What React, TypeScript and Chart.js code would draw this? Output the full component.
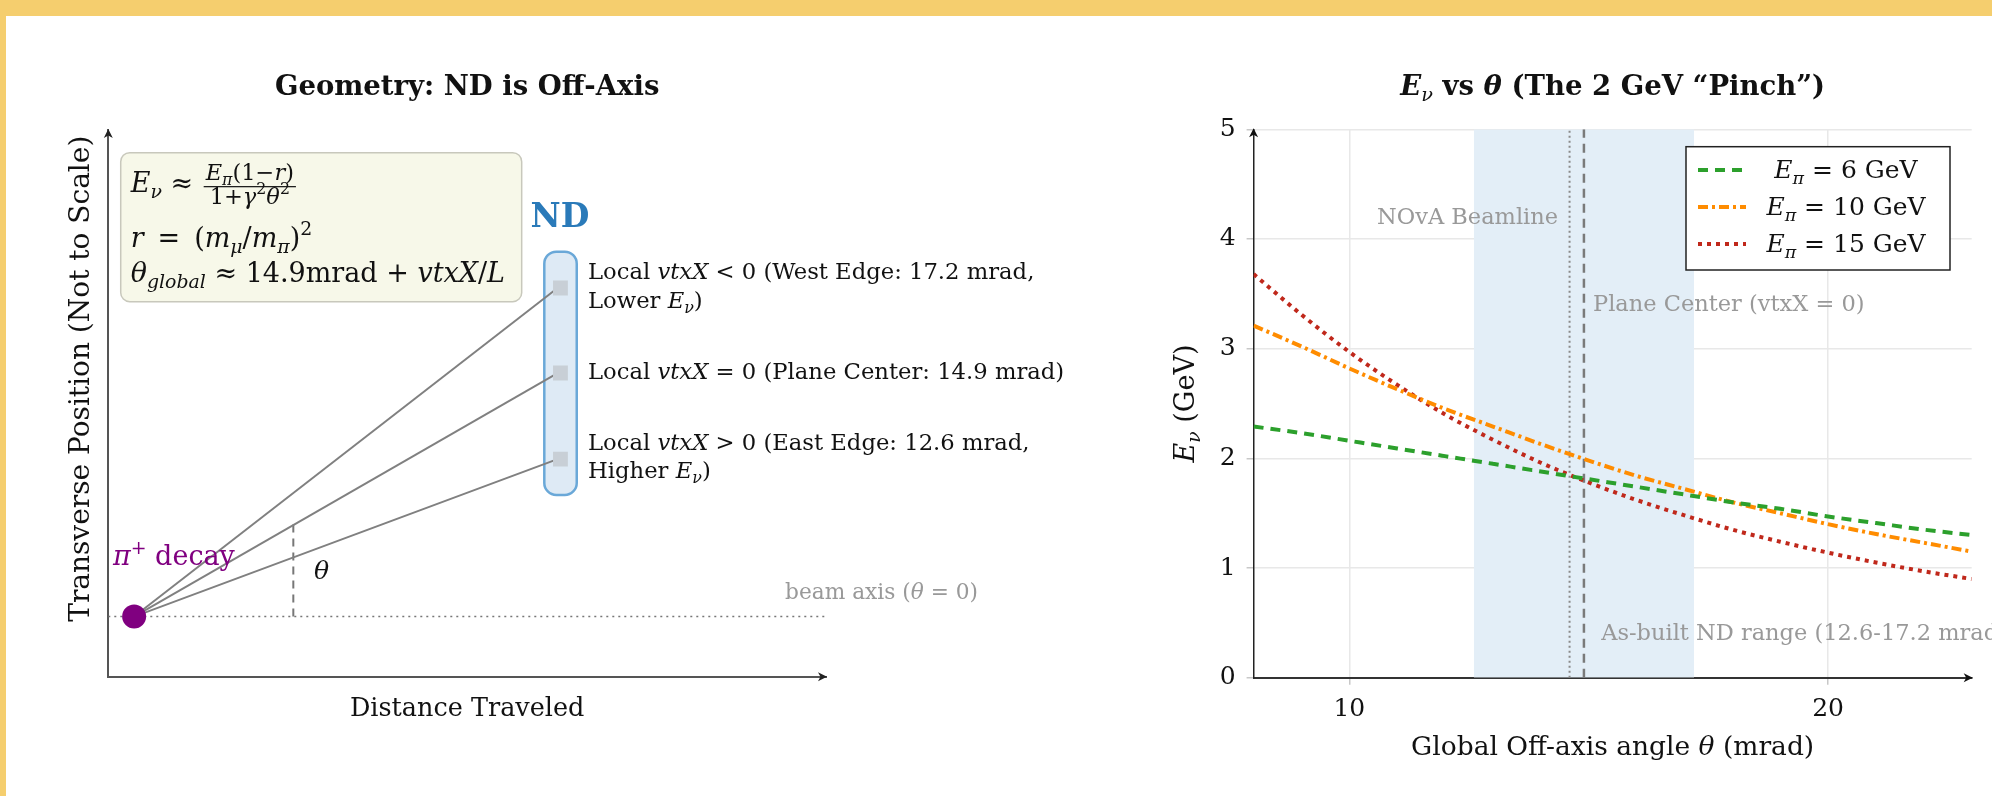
import React, { useEffect, useRef } from 'react';
import { Chart, registerables } from 'chart.js';

Chart.register(...registerables);

const SERIF = '"DejaVu Serif", "Liberation Serif", serif';
const YELLOW = '#f5ce6e';

// ---------------- Right panel data (E_nu vs theta) ----------------
const thetaMrad = [8, 9, 10, 11, 12, 13, 14, 15, 16, 17, 18, 19, 20, 21, 22, 23];
const enuPi6 = [2.29, 2.23, 2.16, 2.09, 2.02, 1.95, 1.88, 1.81, 1.74, 1.67, 1.6, 1.54, 1.47, 1.41, 1.35, 1.3];
const enuPi10 = [3.21, 3.02, 2.82, 2.63, 2.45, 2.29, 2.13, 1.98, 1.84, 1.72, 1.6, 1.5, 1.4, 1.31, 1.23, 1.15];
const enuPi15 = [3.68, 3.31, 2.97, 2.67, 2.4, 2.17, 1.96, 1.78, 1.62, 1.48, 1.35, 1.24, 1.14, 1.05, 0.97, 0.9];
const pionEnergies = ['6', '10', '15'];
const seriesColors = ['#2ca02c', '#ff8c00', '#c0281b'];
const ndRangeMrad = [12.6, 17.2];
const beamlineMrad = 14.6;
const planeCenterMrad = 14.9;
const xTickValues = [10, 20];
const yRange = [0, 5];
const xRange = [8, 23];

// ---------------- Left panel data (geometry sketch) ----------------
const decayPoint = [0.36, 1.1];
const ndTargetX = 6.26;
const ndTargetY = [7.11, 5.555, 3.98];
const beamAxisX = [0, 10];
const thetaMarkX = 2.578;
const thetaMarkY = [1.1, 2.85];

type Seg = { t: string; it?: boolean; b?: boolean; s?: number; dy?: number };

function segFont(seg: Seg, size: number) {
  return `${seg.it ? 'italic ' : ''}${seg.b ? 'bold ' : ''}${(size * (seg.s ?? 1)).toFixed(2)}px ${SERIF}`;
}
function measureRich(ctx: CanvasRenderingContext2D, segs: Seg[], size: number) {
  let w = 0;
  for (const s of segs) {
    ctx.font = segFont(s, size);
    w += ctx.measureText(s.t).width;
  }
  return w;
}
function drawRich(
  ctx: CanvasRenderingContext2D,
  segs: Seg[],
  x: number,
  y: number,
  size: number,
  color: string,
  align: 'left' | 'center' | 'right' = 'left'
) {
  const w = measureRich(ctx, segs, size);
  let cx = align === 'left' ? x : align === 'center' ? x - w / 2 : x - w;
  ctx.save();
  ctx.fillStyle = color;
  ctx.textAlign = 'left';
  ctx.textBaseline = 'alphabetic';
  for (const s of segs) {
    ctx.font = segFont(s, size);
    ctx.fillText(s.t, cx, y + (s.dy ?? 0) * size);
    cx += ctx.measureText(s.t).width;
  }
  ctx.restore();
  return w;
}
function drawArrow(ctx: CanvasRenderingContext2D, x: number, y: number, dir: 'up' | 'right', color: string) {
  ctx.save();
  ctx.translate(x, y);
  if (dir === 'up') ctx.rotate(-Math.PI / 2);
  ctx.fillStyle = color;
  ctx.beginPath();
  ctx.moveTo(1, 0);
  ctx.lineTo(-8, -4.5);
  ctx.lineTo(-5.5, 0);
  ctx.lineTo(-8, 4.5);
  ctx.closePath();
  ctx.fill();
  ctx.restore();
}
function roundRect(ctx: CanvasRenderingContext2D, x0: number, y0: number, x1: number, y1: number, r: number) {
  const x = Math.min(x0, x1), y = Math.min(y0, y1), w = Math.abs(x1 - x0), h = Math.abs(y1 - y0);
  ctx.beginPath();
  ctx.moveTo(x + r, y);
  ctx.lineTo(x + w - r, y);
  ctx.arcTo(x + w, y, x + w, y + r, r);
  ctx.lineTo(x + w, y + h - r);
  ctx.arcTo(x + w, y + h, x + w - r, y + h, r);
  ctx.lineTo(x + r, y + h);
  ctx.arcTo(x, y + h, x, y + h - r, r);
  ctx.lineTo(x, y + r);
  ctx.arcTo(x, y, x + r, y, r);
  ctx.closePath();
}

const sub = (t: string, it = true): Seg => ({ t, it, s: 0.7, dy: 0.22 });
const sup = (t: string): Seg => ({ t, s: 0.7, dy: -0.42 });

const ndEdgeLabels: Seg[][] = [
  [{ t: 'Local ' }, { t: 'vtxX', it: true }, { t: ' < 0 (West Edge: 17.2 mrad,' }],
  [{ t: 'Lower ' }, { t: 'E', it: true }, sub('ν'), { t: ')' }],
  [{ t: 'Local ' }, { t: 'vtxX', it: true }, { t: ' = 0 (Plane Center: 14.9 mrad)' }],
  [{ t: 'Local ' }, { t: 'vtxX', it: true }, { t: ' > 0 (East Edge: 12.6 mrad,' }],
  [{ t: 'Higher ' }, { t: 'E', it: true }, sub('ν'), { t: ')' }],
];
const ndEdgeLabelY = [7.275, 6.744, 5.445, 4.147, 3.635];

// ---------------- Left chart ----------------
const geometryPlugin = {
  id: 'geometryDecor',
  beforeDatasetsDraw(chart: any) {
    const { ctx, scales } = chart;
    const X = (v: number) => scales.x.getPixelForValue(v);
    const Y = (v: number) => scales.y.getPixelForValue(v);
    ctx.save();
    roundRect(ctx, X(6.075), Y(7.774), X(6.527), Y(3.324), 12);
    ctx.fillStyle = '#deeaf5';
    ctx.fill();
    ctx.lineWidth = 2.5;
    ctx.strokeStyle = '#6aa8d8';
    ctx.stroke();
    ctx.restore();
  },
  afterDatasetsDraw(chart: any) {
    const { ctx, scales, chartArea: ca } = chart;
    const X = (v: number) => scales.x.getPixelForValue(v);
    const Y = (v: number) => scales.y.getPixelForValue(v);
    drawArrow(ctx, ca.left, ca.top, 'up', '#222');
    drawArrow(ctx, ca.right, ca.bottom, 'right', '#222');

    // title
    drawRich(ctx, [{ t: 'Geometry: ND is Off-Axis', b: true }], (ca.left + ca.right) / 2, 95, 27.5, '#111', 'center');

    // y-axis title
    ctx.save();
    ctx.translate(79, Y(5.45));
    ctx.rotate(-Math.PI / 2);
    drawRich(ctx, [{ t: 'Transverse Position (Not to Scale)' }], 0, 10, 28, '#111', 'center');
    ctx.restore();

    // formula box
    ctx.save();
    roundRect(ctx, X(0.173), Y(9.585), X(5.76), Y(6.86), 9);
    ctx.fillStyle = '#f7f8e9';
    ctx.fill();
    ctx.lineWidth = 1.5;
    ctx.strokeStyle = '#c8c8bc';
    ctx.stroke();
    ctx.restore();
    const fx0 = X(0.312);
    const b1 = Y(8.872);
    const w1 = drawRich(ctx, [{ t: 'E', it: true }, sub('ν'), { t: ' ≈ ' }], fx0, b1, 27, '#111');
    const num: Seg[] = [{ t: 'E', it: true }, sub('π'), { t: '(1−' }, { t: 'r', it: true }, { t: ')' }];
    const den: Seg[] = [{ t: '1+' }, { t: 'γ', it: true }, sup('2'), { t: 'θ', it: true }, sup('2')];
    const fs = 22.5;
    const nw = measureRich(ctx, num, fs);
    const dw = measureRich(ctx, den, fs);
    const fw = Math.max(nw, dw) + 4;
    const fL = fx0 + w1 + 2;
    const barY = b1 - 5;
    drawRich(ctx, num, fL + fw / 2, barY - 7, fs, '#111', 'center');
    ctx.fillStyle = '#111';
    ctx.fillRect(fL, barY - 0.6, fw, 1.2);
    drawRich(ctx, den, fL + fw / 2, barY + 17, fs, '#111', 'center');
    drawRich(
      ctx,
      [{ t: 'r', it: true }, { t: ' \u2009=\u2009 (' }, { t: 'm', it: true }, sub('μ'), { t: '/' }, { t: 'm', it: true }, sub('π'), { t: ')' }, sup('2')],
      fx0, Y(7.865), 27, '#111'
    );
    drawRich(
      ctx,
      [{ t: 'θ', it: true }, sub('global'), { t: ' ≈ 14.9mrad + ' }, { t: 'vtxX', it: true }, { t: '/' }, { t: 'L', it: true }],
      fx0, Y(7.225), 27, '#111'
    );

    // ND label
    drawRich(ctx, [{ t: 'ND', b: true }], X(6.293), Y(8.226), 33, '#2a7ab9', 'center');
    ndEdgeLabels.forEach((segs, i) => drawRich(ctx, segs, X(6.684), Y(ndEdgeLabelY[i]), 22.7, '#111'));

    // annotations
    drawRich(ctx, [{ t: 'beam axis (' }, { t: 'θ', it: true }, { t: ' = 0)' }], X(9.429), Y(1.421), 21.7, '#999999');
    drawRich(ctx, [{ t: 'π', it: true }, sup('+'), { t: ' decay' }], X(0.065), Y(2.043), 27, '#800080');
    drawRich(ctx, [{ t: 'θ', it: true }], X(2.866), Y(1.787), 25, '#111');
  },
};

function GeometryChart() {
  const ref = useRef<HTMLCanvasElement | null>(null);
  useEffect(() => {
    if (!ref.current) return;
    const ray = (yEnd: number) => ({
      type: 'scatter' as const,
      showLine: true,
      data: [
        { x: decayPoint[0], y: decayPoint[1] },
        { x: ndTargetX, y: yEnd },
      ],
      borderColor: '#808080',
      borderWidth: 2,
      pointRadius: 0,
      order: 5,
    });
    const chart = new Chart(ref.current, {
      type: 'scatter',
      data: {
        datasets: [
          {
            data: [{ x: decayPoint[0], y: decayPoint[1] }],
            pointRadius: 12,
            pointBackgroundColor: '#800080',
            pointBorderWidth: 0,
            order: 0,
          } as any,
          {
            data: ndTargetY.map((y) => ({ x: ndTargetX + 0.04, y })),
            pointStyle: 'rect',
            pointRadius: 10.5,
            pointBackgroundColor: '#c8cfd6',
            pointBorderWidth: 0,
            order: 1,
          },
          ...ndTargetY.map(ray),
          {
            showLine: true,
            data: beamAxisX.map((x) => ({ x, y: decayPoint[1] })),
            borderColor: '#777777',
            borderWidth: 1.6,
            borderDash: [2, 4],
            pointRadius: 0,
            order: 6,
          },
          {
            showLine: true,
            data: thetaMarkY.map((y) => ({ x: thetaMarkX, y })),
            borderColor: '#777777',
            borderWidth: 2,
            borderDash: [8, 6],
            pointRadius: 0,
            order: 6,
          },
        ],
      },
      options: {
        animation: false,
        responsive: false,
        events: [],
        layout: { padding: { top: 130, right: 1100 - 826, left: 0, bottom: 0 } },
        plugins: { legend: { display: false }, tooltip: { enabled: false } },
        scales: {
          x: {
            type: 'linear',
            min: 0,
            max: 10,
            grid: { display: false },
            ticks: { display: false },
            border: { display: true, color: '#555', width: 2 },
            title: {
              display: true,
              text: 'Distance Traveled',
              color: '#111',
              font: { family: SERIF, size: 25.5 },
              padding: { top: 0, bottom: 796 - 709.5 - 15.3 },
            },
            afterFit: (s: any) => {
              s.height = 796 - 676.7;
            },
          },
          y: {
            type: 'linear',
            min: 0,
            max: 10,
            grid: { display: false },
            ticks: { display: false },
            border: { display: true, color: '#555', width: 2 },
            title: { display: false },
            afterFit: (s: any) => {
              s.width = 108.3;
            },
          },
        },
      } as any,
      plugins: [geometryPlugin],
    });
    return () => chart.destroy();
  }, []);
  return <canvas ref={ref} width={1100} height={796} style={{ position: 'absolute', left: 0, top: 0 }} />;
}

// ---------------- Right chart ----------------
const dashes = [[10, 7], [10, 4, 3, 4], [4, 5]];

const energyPlugin = {
  id: 'energyDecor',
  afterDraw(chart: any) {
    const { ctx, scales, chartArea: ca } = chart;
    const X = (v: number) => scales.x.getPixelForValue(v);
    const Y = (v: number) => scales.y.getPixelForValue(v);
    drawArrow(ctx, ca.left, ca.top, 'up', '#111');
    drawArrow(ctx, ca.right, ca.bottom, 'right', '#111');

    // title
    drawRich(
      ctx,
      [{ t: 'E', it: true, b: true }, { t: 'ν', it: true, s: 0.7, dy: 0.22 }, { t: ' vs ', b: true }, { t: 'θ', it: true, b: true }, { t: ' (The 2 GeV “Pinch”)', b: true }],
      (ca.left + ca.right) / 2, 95, 27.5, '#111', 'center'
    );
    // y title
    ctx.save();
    ctx.translate(ca.left - 68.6, (ca.top + ca.bottom) / 2);
    ctx.rotate(-Math.PI / 2);
    drawRich(ctx, [{ t: 'E', it: true }, sub('ν'), { t: ' (GeV)' }], 0, 9, 27, '#111', 'center');
    ctx.restore();
    // x title
    drawRich(ctx, [{ t: 'Global Off-axis angle ' }, { t: 'θ', it: true }, { t: ' (mrad)' }], (ca.left + ca.right) / 2, 755, 26.5, '#111', 'center');

    // annotations
    drawRich(ctx, [{ t: 'NOvA Beamline' }], X(14.36), Y(4.137), 22.5, '#999999', 'right');
    drawRich(ctx, [{ t: 'Plane Center (vtxX = 0)' }], X(15.09), Y(3.343), 22.5, '#999999');
    drawRich(ctx, [{ t: 'As-built ND range (12.6-17.2 mrad)' }], X(15.26), Y(0.344), 22.5, '#999999');

    // legend
    const bw = 264, bh = 123.3;
    const bx = ca.right - 21.7 - bw;
    const by = ca.top + 17.4;
    ctx.save();
    ctx.fillStyle = '#ffffff';
    ctx.fillRect(bx, by, bw, bh);
    ctx.strokeStyle = '#222';
    ctx.lineWidth = 1.5;
    ctx.strokeRect(bx, by, bw, bh);
    const rows = [23.3, 60.3, 97.3];
    const curveSets = chart.data.datasets.filter((d: any) => d.isCurve);
    curveSets.forEach((d: any, i: number) => {
      const ry = by + rows[i];
      ctx.beginPath();
      ctx.setLineDash(d.borderDash);
      ctx.strokeStyle = d.borderColor;
      ctx.lineWidth = d.borderWidth;
      ctx.moveTo(bx + 12, ry);
      ctx.lineTo(bx + 60, ry);
      ctx.stroke();
      ctx.setLineDash([]);
      drawRich(ctx, [{ t: 'E', it: true }, sub('π'), { t: ` = ${pionEnergies[i]} GeV` }], bx + 160, ry + 8, 25, '#111', 'center');
    });
    ctx.restore();
  },
};

function EnergyChart() {
  const ref = useRef<HTMLCanvasElement | null>(null);
  useEffect(() => {
    if (!ref.current) return;
    const curves = [enuPi6, enuPi10, enuPi15].map((vals, i) => ({
      label: `E_pi = ${pionEnergies[i]} GeV`,
      isCurve: true,
      showLine: true,
      data: vals.map((v, j) => ({ x: thetaMrad[j], y: v })),
      borderColor: seriesColors[i],
      borderWidth: 4,
      borderDash: dashes[i],
      pointRadius: 0,
      cubicInterpolationMode: 'monotone',
      order: 1,
    }));
    const chart = new Chart(ref.current, {
      type: 'scatter',
      data: {
        datasets: [
          ...curves,
          {
            showLine: true,
            data: [{ x: beamlineMrad, y: yRange[0] }, { x: beamlineMrad, y: yRange[1] }],
            borderColor: '#8a8a8a',
            borderWidth: 2,
            borderDash: [2, 3],
            pointRadius: 0,
            order: 5,
          },
          {
            showLine: true,
            data: [{ x: planeCenterMrad, y: yRange[0] }, { x: planeCenterMrad, y: yRange[1] }],
            borderColor: '#7a7a7a',
            borderWidth: 2.5,
            borderDash: [9, 6],
            pointRadius: 0,
            order: 5,
          },
          {
            showLine: true,
            data: ndRangeMrad.map((x) => ({ x, y: yRange[1] })),
            fill: 'origin',
            backgroundColor: '#e3eef7',
            borderWidth: 0,
            borderColor: 'rgba(0,0,0,0)',
            pointRadius: 0,
            order: 10,
          },
        ],
      },
      options: {
        animation: false,
        responsive: false,
        events: [],
        layout: { padding: { top: 129.3, right: 892 - 871.7, left: 0, bottom: 0 } },
        plugins: { legend: { display: false }, tooltip: { enabled: false } },
        scales: {
          x: {
            type: 'linear',
            min: xRange[0],
            max: xRange[1],
            afterBuildTicks: (s: any) => {
              s.ticks = xTickValues.map((value) => ({ value }));
            },
            ticks: { color: '#111', font: { family: SERIF, size: 25 }, padding: 10 },
            grid: { color: '#e8e8e8', lineWidth: 1.5, tickLength: 7, tickColor: '#c8c8c8' },
            border: { display: true, color: '#333', width: 2 },
            afterFit: (s: any) => {
              s.height = 796 - 677.7;
            },
          },
          y: {
            type: 'linear',
            min: yRange[0],
            max: yRange[1],
            ticks: { stepSize: 1, color: '#111', font: { family: SERIF, size: 25 }, padding: 11 },
            grid: { color: '#e8e8e8', lineWidth: 1.5, tickLength: 7, tickColor: '#c8c8c8' },
            border: { display: true, color: '#222', width: 1.5 },
            afterFit: (s: any) => {
              s.width = 153.6;
            },
          },
        },
      } as any,
      plugins: [energyPlugin],
    });
    return () => chart.destroy();
  }, []);
  return <canvas ref={ref} width={892} height={796} style={{ position: 'absolute', left: 1100, top: 0 }} />;
}

export default function App() {
  useEffect(() => {
    document.body.style.margin = '0';
  }, []);
  return (
    <div style={{ position: 'absolute', left: 0, top: 0, width: 1992, height: 796, background: '#ffffff', overflow: 'hidden' }}>
      <div style={{ position: 'absolute', left: 0, top: 0, width: 1992, height: 16, background: YELLOW }} />
      <div style={{ position: 'absolute', left: 0, top: 0, width: 6, height: 796, background: YELLOW }} />
      <GeometryChart />
      <EnergyChart />
    </div>
  );
}
